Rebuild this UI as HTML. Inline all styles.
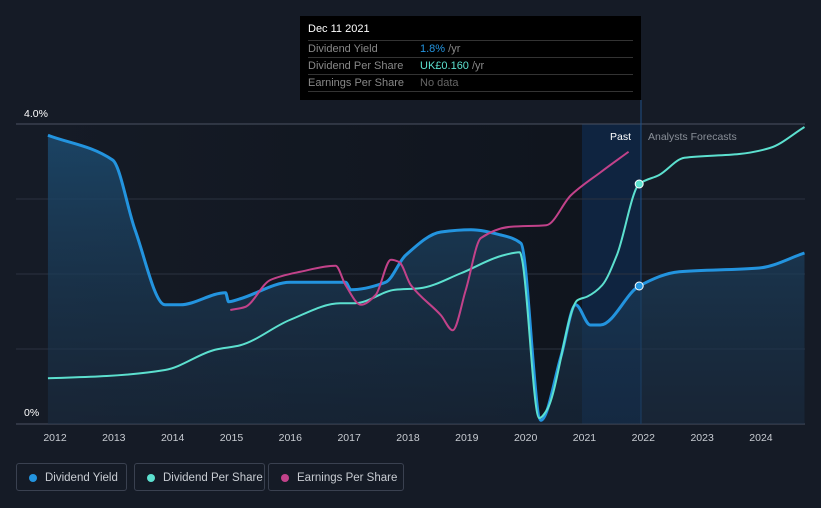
<!DOCTYPE html>
<html><head><meta charset="utf-8"><style>
body{margin:0;background:#151b26;font-family:"Liberation Sans",sans-serif;}
#c{position:relative;width:821px;height:508px;overflow:hidden}
.leg{position:absolute;top:463px;height:28px;border:1px solid #3a4150;border-radius:3px;color:#c8ccd2;font-size:11.5px;line-height:28px;box-sizing:border-box;padding-left:28px;white-space:nowrap}
.leg i{position:absolute;left:12px;top:10px;width:8px;height:8px;border-radius:50%}
.tt{position:absolute;left:300px;top:16px;width:341px;height:84px;background:#000;font-size:11px;color:#888}
.row{position:absolute;left:8px;width:325px;border-top:1px solid #333;height:16px;line-height:16px}
</style></head><body>
<div id="c">
<svg id="s" width="821" height="508" style="position:absolute;left:0;top:0"></svg>
<div class="tt">
<div style="position:absolute;left:8px;top:7px;color:#fff;font-size:11px">Dec 11 2021</div>
<div class="row" style="top:24px">Dividend Yield<span style="position:absolute;left:112px"><b style="font-weight:normal;color:#2394df">1.8%</b> /yr</span></div>
<div class="row" style="top:41px">Dividend Per Share<span style="position:absolute;left:112px"><b style="font-weight:normal;color:#5ce0cf">UK£0.160</b> /yr</span></div>
<div class="row" style="top:58px">Earnings Per Share<span style="position:absolute;left:112px;color:#666">No data</span></div>
<div class="row" style="top:75px"></div>
</div>
<div class="leg" style="left:16px;width:111px"><i style="background:#2394df"></i>Dividend Yield</div>
<div class="leg" style="left:134px;width:131px"><i style="background:#5ce0cf"></i>Dividend Per Share</div>
<div class="leg" style="left:268px;width:136px"><i style="background:#c2428a"></i>Earnings Per Share</div>
</div>
<script>
const years=[2012,2013,2014,2015,2016,2017,2018,2019,2020,2021,2022,2023,2024];
const yTicks=["0%","4.0%"];
const yieldT=[2011.88,2012.98,2013.36,2013.87,2014.13,2014.9,2014.95,2015.15,2016.0,2016.94,2017.03,2017.62,2017.96,2018.56,2019.07,2019.58,2019.92,2020.26,2020.6,2020.85,2021.1,2021.27,2021.93,2022.61,2023.97,2024.74];
const yieldV=[3.85,3.52,2.59,1.59,1.59,1.75,1.63,1.67,1.89,1.89,1.79,1.89,2.25,2.56,2.59,2.52,2.41,0.05,0.9,1.59,1.32,1.32,1.84,2.03,2.08,2.28];
const dpsT=[2011.88,2012.88,2013.87,2014.72,2015.15,2016.0,2016.85,2017.1,2017.78,2018.2,2018.9,2019.58,2019.9,2019.94,2020.23,2020.37,2020.88,2021.05,2021.3,2021.55,2021.93,2022.27,2022.7,2023.63,2024.15,2024.74];
const dpsV=[0.61,0.64,0.72,0.99,1.05,1.39,1.61,1.61,1.79,1.81,2.01,2.24,2.29,2.19,0.08,0.2,1.65,1.7,1.85,2.25,3.2,3.32,3.55,3.6,3.68,3.96];
const epsT=[2014.98,2015.23,2015.66,2016.17,2016.77,2016.94,2017.2,2017.45,2017.71,2017.85,2018.05,2018.56,2018.76,2018.98,2019.24,2019.75,2020.35,2020.77,2021.28,2021.75];
const epsV=[1.52,1.56,1.92,2.03,2.11,1.85,1.59,1.72,2.19,2.16,1.85,1.45,1.25,1.78,2.48,2.63,2.65,3.05,3.36,3.63];
const X=t=>55+(t-2012)*58.83, Y=v=>424-v*75;
const s=document.getElementById('s'),NS='http://www.w3.org/2000/svg';
function el(tag,a,parent){const e=document.createElementNS(NS,tag);for(const k in a)e.setAttribute(k,a[k]);(parent||s).appendChild(e);return e;}
function path(T,V){const p=T.map((t,i)=>[X(t),Y(V[i])]);const n=p.length;
const d=[],m=[];for(let i=0;i<n-1;i++)d.push((p[i+1][1]-p[i][1])/(p[i+1][0]-p[i][0]));
for(let i=0;i<n;i++){if(i==0)m.push(d[0]);else if(i==n-1)m.push(d[n-2]);else m.push(d[i-1]*d[i]<=0?0:2/(1/d[i-1]+1/d[i]));}
let s=`M${p[0][0]},${p[0][1]}`;
for(let i=0;i<n-1;i++){const h=(p[i+1][0]-p[i][0])/3;s+=`C${p[i][0]+h},${p[i][1]+m[i]*h} ${p[i+1][0]-h},${p[i+1][1]-m[i+1]*h} ${p[i+1][0]},${p[i+1][1]}`;}return s;}
const defs=el('defs',{});
const g=el('linearGradient',{id:'bg',x1:0,x2:1,y1:0,y2:0},defs);
el('stop',{offset:0,'stop-color':'#151b26'},g);el('stop',{offset:1,'stop-color':'#0f141d'},g);
const g2=el('linearGradient',{id:'fa',x1:0,x2:0,y1:0,y2:1},defs);
el('stop',{offset:0,'stop-color':'#1c4a6e','stop-opacity':0.85},g2);el('stop',{offset:1,'stop-color':'#1a2e44','stop-opacity':0.5},g2);
let r=el('rect',{x:48,y:124,width:593,height:300,fill:'url(#bg)'});
r=el('rect',{x:582,y:124,width:59,height:300,fill:'#0f2440'});
[1,2,3].forEach(v=>{const l=el('line',{x1:16,x2:805,y1:Y(v),y2:Y(v),stroke:'#2b3240'});});
el('line',{x1:16,x2:805,y1:Y(4),y2:Y(4),stroke:'#4a5262'});
el('line',{x1:16,x2:805,y1:Y(0),y2:Y(0),stroke:'#4a5262'});
el('line',{x1:641,x2:641,y1:100,y2:424,stroke:'#1e4f86'});
let t=el('text',{x:24,y:117,fill:'#fff','font-size':10.5});t.textContent=yTicks[1];
t=el('text',{x:24,y:416,fill:'#fff','font-size':10.5});t.textContent=yTicks[0];
years.forEach(yr=>{const e=el('text',{x:X(yr),y:441,fill:'#c8ccd2','font-size':10.5,'text-anchor':'middle'});e.textContent=yr;});
t=el('text',{x:631,y:140,fill:'#fff','font-size':10.5,'text-anchor':'end'});t.textContent='Past';
t=el('text',{x:648,y:140,fill:'#8a9099','font-size':10.5});t.textContent='Analysts Forecasts';
const yd=path(yieldT,yieldV);
let a=el('path',{d:yd+`L${X(yieldT[yieldT.length-1])},424L${X(yieldT[0])},424Z`,fill:'url(#fa)'});
a=el('path',{d:yd,fill:'none',stroke:'#2394df','stroke-width':3});
a=el('path',{d:path(dpsT,dpsV),fill:'none',stroke:'#5ce0cf','stroke-width':2});
a=el('path',{d:path(epsT,epsV),fill:'none',stroke:'#c2428a','stroke-width':2});
a=el('circle',{cx:X(2021.93),cy:Y(1.84),r:4,fill:'#2394df',stroke:'#fff','stroke-width':1});
a=el('circle',{cx:X(2021.93),cy:Y(3.2),r:4,fill:'#5ce0cf',stroke:'#fff','stroke-width':1});
</script>
</body></html>
